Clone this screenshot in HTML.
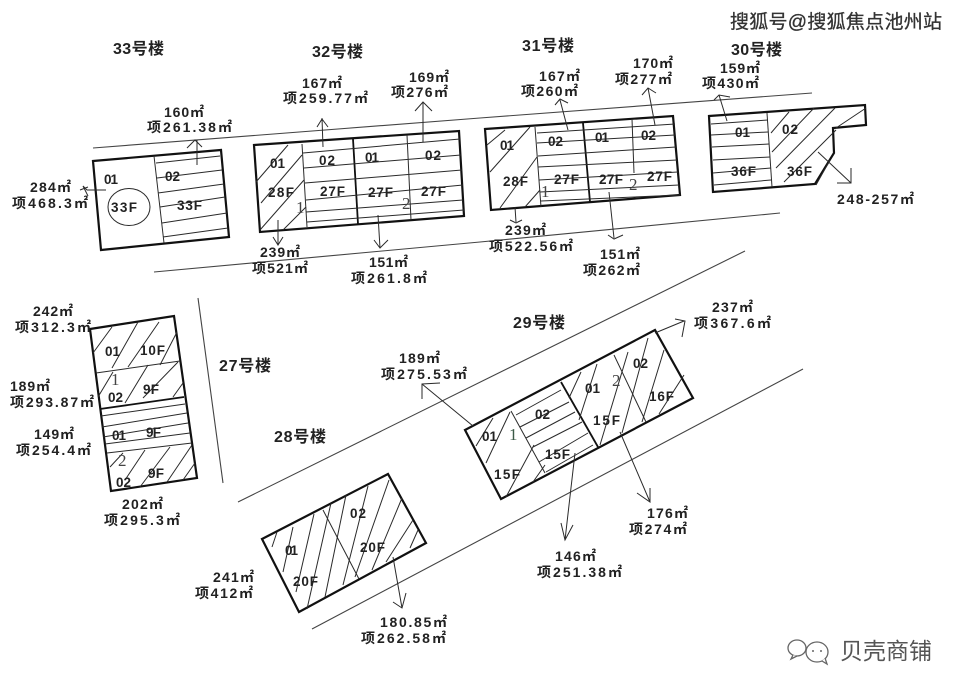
<!DOCTYPE html>
<html><head><meta charset="utf-8"><style>
html,body{margin:0;padding:0;background:#fff;width:964px;height:692px;overflow:hidden}
svg{display:block;filter:blur(.35px)}
.t{stroke:#2a2a2a;stroke-width:1;fill:none}
.b{stroke:#111;stroke-width:2.2;fill:none}
.r{stroke:#444;stroke-width:1.1;fill:none}
text{font-family:"Liberation Sans","Noto Sans CJK SC",sans-serif;fill:#222;font-weight:bold}
.l{font-size:14px}
.n{font-size:13.5px}
.h{font-family:"Liberation Sans","Noto Sans CJK SC",sans-serif;font-size:16px;fill:#222;font-weight:bold}
.d{font-family:"Liberation Serif",serif;font-size:17px;font-weight:normal;fill:#444}
</style></head><body>
<svg width="964" height="692" viewBox="0 0 964 692" xmlns="http://www.w3.org/2000/svg">
<rect width="964" height="692" fill="#fff"/>
<!-- roads -->
<path class="r" d="M93 148L480 118L812 93M154 272L480 242L780 213M198 298L223 483M238 502L745 251M312 629L803 369"/>

<!-- 33 -->
<path class="b" d="M93 161L221 150L229 237L101 250Z"/>
<path class="t" d="M154 156L164 243M156 163L220 156M157 178L222 170M158 193L224 184M160 207L225 197M162 223L227 213M163 237L228 228"/>
<ellipse class="t" cx="129" cy="207" rx="21" ry="18.500"/>
<path class="t" d="M197 165L197 140M187 148L195 140L202 147M106 190L87 190L83 186L88 196M88 187L80 190"/>

<!-- 32 -->
<path class="b" d="M254 145L459 131L464 216L260 232Z"/>
<path class="b" style="stroke-width:1.800" d="M353 139L358 224"/>
<path class="t" d="M302 144L307 227M407 135L411 220"/>
<path class="t" d="M303 153L460 139M304 168L461 155M305 183L462 170M306 200L463 185M306 212L463 200M307 222L464 210"/>
<path class="t" d="M256 182L288 145M261 203L302 155M260 230L304 180M283 230L306 207"/>
<path class="t" d="M323 147L322 118M317 127L322 119L328 127M423 142L423 102M415 111L423 102L432 111M278 220L278 245M273 237L278 245L283 237M378 215L380 248M374 240L380 248L388 240"/>

<!-- 31 -->
<path class="b" d="M485 129L673 116L680 195L491 210Z"/>
<path class="b" style="stroke-width:1.800" d="M583 123L590 202"/>
<path class="t" d="M535 127L541 207M632 119L634 173"/>
<path class="t" d="M537 133L675 124M537 143L675 135M538 156L676 147M538 167L677 160M539 180L678 172M540 192L679 185M541 201L680 195"/>
<path class="t" d="M487 145L505 130M490 172L530 127M500 208L537 157M525 207L540 190"/>
<path class="t" d="M568 130L560 100M555 105L560 99L568 103M655 125L648 88M642 95L648 88L656 93M515 207L516 222M510 220L516 223L522 220M609 192L614 238M608 235L614 239L623 235"/>

<!-- 30 -->
<path class="b" d="M709 116L865 105L866 125L833 128L834 153L815 184L713 192Z"/>
<path class="t" d="M767 113L772 187"/>
<path class="t" d="M711 124L768 120M711 135L768 132M712 147L769 144M713 160L770 157M713 173L771 168M714 185L771 180"/>
<path class="t" d="M771 133L789 112M772 152L814 108M776 168L835 108M784 182L836 130M816 185L830 160M836 128L866 108"/>
<path class="t" d="M727 121L719 95M714 100L719 95L730 97M818 152L851 183M851 168L851 183L837 183"/>

<!-- 27 -->
<path class="b" d="M90 329L174 316L197 478L111 491Z"/>
<path class="b" style="stroke-width:1.800" d="M100 409L184 397"/>
<path class="t" d="M96 373L180 361M101 416L185 404M102 427L187 413M103 437L188 423M105 444L190 433M107 453L192 443"/>
<path class="t" d="M93 353L112 327M112 368L138 322M128 367L159 322M160 365L177 332M98 397L113 372M125 403L148 365M143 398L178 362M173 397L183 383M110 467L123 453M125 480L145 450M140 487L170 447M167 482L192 445M183 480L195 463"/>

<!-- 28 -->
<path class="b" d="M262 539L388 474L426 543L299 612Z"/>
<path class="t" d="M323 510L359 579"/>
<path class="t" d="M272 547L277 532M283 572L293 527M296 592L314 514M307 609L331 503M325 597L346 495M343 585L368 486M355 577L389 480M372 570L402 498M386 562L413 520M410 548L418 530"/>
<path class="t" d="M393 557L402 608M393 602L402 608L406 593"/>

<!-- 29 -->
<path class="b" d="M465 430L655 330L693 398L501 499Z"/>
<path class="b" style="stroke-width:1.800" d="M561 382L598 447"/>
<path class="t" d="M511 411L545 473M614 355L646 422"/>
<path class="t" d="M476 446L493 418M486 463L510 412M506 497L534 445M533 482L545 465"/>
<path class="t" d="M516 415L561 390M520 427L569 402M526 438L575 412M533 447L582 422M539 462L588 433M546 472L593 445"/>
<path class="t" d="M569 398L581 372M579 420L597 364M600 445L628 352M622 433L648 338M642 422L664 350M659 414L684 375"/>
<path class="t" d="M473 426L422 384M440 383L422 384L422 399M655 333L684 321M675 319L685 321L682 337M575 453L565 540M561 523L565 540L573 525M620 432L650 502M637 493L650 502L650 488"/>

<!-- titles -->
<text class="h" x="113" y="54" textLength="51">33号楼</text>
<text class="h" x="312" y="57" textLength="51">32号楼</text>
<text class="h" x="522" y="51" textLength="52">31号楼</text>
<text class="h" x="731" y="55" textLength="51">30号楼</text>
<text class="h" x="219" y="371" textLength="52">27号楼</text>
<text class="h" x="274" y="442" textLength="52">28号楼</text>
<text class="h" x="513" y="328" textLength="52">29号楼</text>

<!-- area labels -->
<g class="l">
<text class="l" x="164" y="117" textLength="40">160㎡</text><text class="l" x="147" y="132" textLength="85">项261.38㎡</text>
<text class="l" x="30" y="192" textLength="41">284㎡</text><text class="l" x="12" y="208" textLength="76">项468.3㎡</text>
<text class="l" x="302" y="88" textLength="40">167㎡</text><text class="l" x="283" y="103" textLength="85">项259.77㎡</text>
<text class="l" x="409" y="82" textLength="40">169㎡</text><text class="l" x="391" y="97" textLength="57">项276㎡</text>
<text class="l" x="260" y="257" textLength="40">239㎡</text><text class="l" x="252" y="273" textLength="56">项521㎡</text>
<text class="l" x="369" y="267" textLength="39">151㎡</text><text class="l" x="351" y="283" textLength="76">项261.8㎡</text>
<text class="l" x="539" y="81" textLength="41">167㎡</text><text class="l" x="521" y="96" textLength="57">项260㎡</text>
<text class="l" x="633" y="68" textLength="40">170㎡</text><text class="l" x="615" y="84" textLength="57">项277㎡</text>
<text class="l" x="720" y="73" textLength="40">159㎡</text><text class="l" x="702" y="88" textLength="57">项430㎡</text>
<text class="l" x="505" y="235" textLength="41">239㎡</text><text class="l" x="489" y="251" textLength="84">项522.56㎡</text>
<text class="l" x="600" y="259" textLength="40">151㎡</text><text class="l" x="583" y="275" textLength="57">项262㎡</text>
<text class="l" x="837" y="204" textLength="77">248-257㎡</text>
<text class="l" x="33" y="316" textLength="40">242㎡</text><text class="l" x="15" y="332" textLength="76">项312.3㎡</text>
<text class="l" x="10" y="391" textLength="40">189㎡</text><text class="l" x="10" y="407" textLength="84">项293.87㎡</text>
<text class="l" x="34" y="439" textLength="40">149㎡</text><text class="l" x="16" y="455" textLength="75">项254.4㎡</text>
<text class="l" x="122" y="509" textLength="41">202㎡</text><text class="l" x="104" y="525" textLength="76">项295.3㎡</text>
<text class="l" x="213" y="582" textLength="41">241㎡</text><text class="l" x="195" y="598" textLength="58">项412㎡</text>
<text class="l" x="380" y="627" textLength="67">180.85㎡</text><text class="l" x="361" y="643" textLength="85">项262.58㎡</text>
<text class="l" x="399" y="363" textLength="41">189㎡</text><text class="l" x="381" y="379" textLength="86">项275.53㎡</text>
<text class="l" x="712" y="312" textLength="41">237㎡</text><text class="l" x="694" y="328" textLength="77">项367.6㎡</text>
<text class="l" x="647" y="518" textLength="41">176㎡</text><text class="l" x="629" y="534" textLength="58">项274㎡</text>
<text class="l" x="555" y="561" textLength="41">146㎡</text><text class="l" x="537" y="577" textLength="85">项251.38㎡</text>
</g>

<!-- unit labels -->
<text class="n" x="104" y="184" textLength="14">01</text><text class="n" x="165" y="181" textLength="15">02</text><text class="n" x="111" y="212" textLength="26">33F</text><text class="n" x="177" y="210" textLength="25">33F</text>
<text class="n" x="270" y="168" textLength="15">01</text><text class="n" x="268" y="197" textLength="26">28F</text><text class="n" x="319" y="165" textLength="16">02</text><text class="n" x="365" y="162" textLength="14">01</text><text class="n" x="425" y="160" textLength="16">02</text><text class="n" x="320" y="196" textLength="25">27F</text><text class="n" x="368" y="197" textLength="25">27F</text><text class="n" x="421" y="196" textLength="25">27F</text>
<text class="d" x="296" y="213">1</text><text class="d" x="402" y="209">2</text>
<text class="n" x="500" y="150" textLength="14">01</text><text class="n" x="503" y="186" textLength="25">28F</text><text class="n" x="548" y="146" textLength="15">02</text><text class="n" x="595" y="142" textLength="14">01</text><text class="n" x="641" y="140" textLength="15">02</text><text class="n" x="554" y="184" textLength="25">27F</text><text class="n" x="599" y="184" textLength="24">27F</text><text class="n" x="647" y="181" textLength="25">27F</text>
<text class="d" x="541" y="197">1</text><text class="d" x="629" y="190">2</text>
<text class="n" x="735" y="137" textLength="15">01</text><text class="n" x="782" y="134" textLength="16">02</text><text class="n" x="731" y="176" textLength="25">36F</text><text class="n" x="787" y="176" textLength="25">36F</text>
<text class="n" x="105" y="356" textLength="15">01</text><text class="n" x="140" y="355" textLength="25">10F</text><text class="d" x="111" y="385">1</text><text class="n" x="108" y="402" textLength="15">02</text><text class="n" x="143" y="394" textLength="16">9F</text><text class="n" x="112" y="440" textLength="14">01</text><text class="n" x="146" y="437" textLength="15">9F</text><text class="d" x="118" y="466">2</text><text class="n" x="116" y="487" textLength="15">02</text><text class="n" x="148" y="478" textLength="16">9F</text>
<text class="n" x="285" y="555" textLength="13">01</text><text class="n" x="293" y="586" textLength="25">20F</text><text class="n" x="350" y="518" textLength="16">02</text><text class="n" x="360" y="552" textLength="25">20F</text>
<text class="n" x="482" y="441" textLength="15">01</text><text class="d" x="509" y="440" style="fill:#3c5a48">1</text><text class="n" x="494" y="479" textLength="26">15F</text><text class="n" x="535" y="419" textLength="15">02</text><text class="n" x="545" y="459" textLength="25">15F</text><text class="n" x="585" y="393" textLength="15">01</text><text class="d" x="612" y="386">2</text><text class="n" x="593" y="425" textLength="27">15F</text><text class="n" x="633" y="368" textLength="15">02</text><text class="n" x="649" y="401" textLength="25">16F</text>

<!-- watermarks -->
<text x="730" y="28" textLength="212" style="font-size:19px;font-weight:normal;fill:#333;stroke:#333;stroke-width:.3">搜狐号@搜狐焦点池州站</text>
<g fill="#fff" stroke="#666" stroke-width="1.300">
<ellipse cx="797" cy="648" rx="9" ry="8"/>
<path d="M793 655L791 659L797 656"/>
<ellipse cx="817" cy="652" rx="11" ry="10"/>
<path d="M822 661L827 664L825 658"/>
</g>
<circle cx="813" cy="651" r="1" fill="#666"/><circle cx="821" cy="651" r="1" fill="#666"/>
<text x="840" y="659" textLength="92" style="font-size:23px;font-weight:normal;fill:#555">贝壳商铺</text>
</svg>
</body></html>
